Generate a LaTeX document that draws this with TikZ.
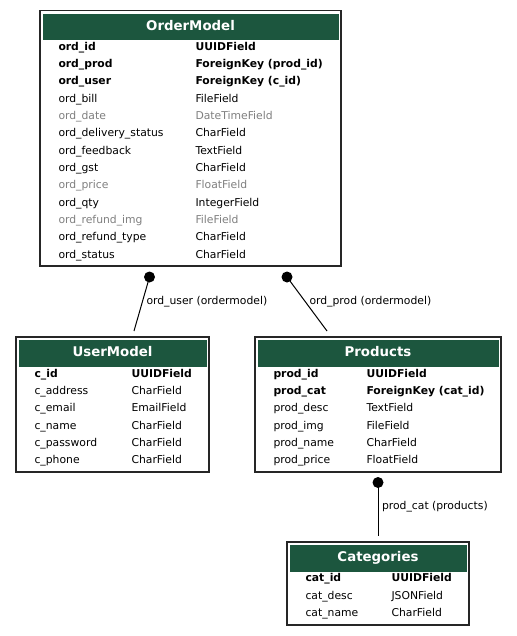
\documentclass[tikz,border=0pt]{standalone}
\usepackage{fontspec}
\setmainfont{DejaVu Sans}
\definecolor{hdrgreen}{RGB}{28,86,62}
\definecolor{fadegray}{RGB}{128,128,128}
\tikzset{every picture/.style={line width=0.75pt}}
\tikzset{
  tblframe/.style={draw=black!85, line width=1pt, fill=white},
  tblhead/.style={fill=hdrgreen, draw=none},
  tbltitle/.style={anchor=base, text=white, inner sep=0pt, font=\fontsize{10}{12}\selectfont\bfseries},
  fld/.style={anchor=base west, inner sep=0pt, font=\fontsize{8.1}{10}\selectfont},
  keyfld/.style={fld, font=\fontsize{8.1}{10}\selectfont\bfseries},
  dimfld/.style={fld, text=fadegray},
  rellabel/.style={anchor=base west, inner sep=0pt, font=\fontsize{8.1}{10}\selectfont},
  reldot/.style={fill=black}
}

\begin{document}
\begin{tikzpicture}[x=0.75pt,y=0.75pt,yscale=-1,xscale=1]
\path (0,0) rectangle (517,636);

%OrderModel table
\draw [tblframe] (40,10.5) rectangle (341,266);
\fill [tblhead] (42.5,13.5) rectangle (338.5,39.5);
\node [tbltitle] (ordtitle) at (190.5,30) {OrderModel};
\node [keyfld] (ordn1) at (58,50) {ord\_id};
\node [keyfld] (ordt1) at (195,50) {UUIDField};
\node [keyfld] (ordn2) at (58,67.33) {ord\_prod};
\node [keyfld] (ordt2) at (195,67.33) {ForeignKey (prod\_id)};
\node [keyfld] (ordn3) at (58,84.67) {ord\_user};
\node [keyfld] (ordt3) at (195,84.67) {ForeignKey (c\_id)};
\node [fld] (ordn4) at (58,102) {ord\_bill};
\node [fld] (ordt4) at (195,102) {FileField};
\node [dimfld] (ordn5) at (58,119.33) {ord\_date};
\node [dimfld] (ordt5) at (195,119.33) {DateTimeField};
\node [fld] (ordn6) at (58,136.67) {ord\_delivery\_status};
\node [fld] (ordt6) at (195,136.67) {CharField};
\node [fld] (ordn7) at (58,154) {ord\_feedback};
\node [fld] (ordt7) at (195,154) {TextField};
\node [fld] (ordn8) at (58,171.33) {ord\_gst};
\node [fld] (ordt8) at (195,171.33) {CharField};
\node [dimfld] (ordn9) at (58,188.67) {ord\_price};
\node [dimfld] (ordt9) at (195,188.67) {FloatField};
\node [fld] (ordn10) at (58,206) {ord\_qty};
\node [fld] (ordt10) at (195,206) {IntegerField};
\node [dimfld] (ordn11) at (58,223.33) {ord\_refund\_img};
\node [dimfld] (ordt11) at (195,223.33) {FileField};
\node [fld] (ordn12) at (58,240.67) {ord\_refund\_type};
\node [fld] (ordt12) at (195,240.67) {CharField};
\node [fld] (ordn13) at (58,258) {ord\_status};
\node [fld] (ordt13) at (195,258) {CharField};

%UserModel table
\draw [tblframe] (16,337) rectangle (209,472);
\fill [tblhead] (18.5,339.5) rectangle (206.5,366.5);
\node [tbltitle] (usrtitle) at (112.5,356) {UserModel};
\node [keyfld] (usrn1) at (34,377.3) {c\_id};
\node [keyfld] (usrt1) at (131,377.3) {UUIDField};
\node [fld] (usrn2) at (34,394.6) {c\_address};
\node [fld] (usrt2) at (131,394.6) {CharField};
\node [fld] (usrn3) at (34,411.9) {c\_email};
\node [fld] (usrt3) at (131,411.9) {EmailField};
\node [fld] (usrn4) at (34,429.2) {c\_name};
\node [fld] (usrt4) at (131,429.2) {CharField};
\node [fld] (usrn5) at (34,446.5) {c\_password};
\node [fld] (usrt5) at (131,446.5) {CharField};
\node [fld] (usrn6) at (34,463.8) {c\_phone};
\node [fld] (usrt6) at (131,463.8) {CharField};

%Products table
\draw [tblframe] (255,337) rectangle (501,472);
\fill [tblhead] (257.5,339.5) rectangle (498.5,366.5);
\node [tbltitle] (prdtitle) at (378,356) {Products};
\node [keyfld] (prdn1) at (273,377.3) {prod\_id};
\node [keyfld] (prdt1) at (366,377.3) {UUIDField};
\node [keyfld] (prdn2) at (273,394.6) {prod\_cat};
\node [keyfld] (prdt2) at (366,394.6) {ForeignKey (cat\_id)};
\node [fld] (prdn3) at (273,411.9) {prod\_desc};
\node [fld] (prdt3) at (366,411.9) {TextField};
\node [fld] (prdn4) at (273,429.2) {prod\_img};
\node [fld] (prdt4) at (366,429.2) {FileField};
\node [fld] (prdn5) at (273,446.5) {prod\_name};
\node [fld] (prdt5) at (366,446.5) {CharField};
\node [fld] (prdn6) at (273,463.8) {prod\_price};
\node [fld] (prdt6) at (366,463.8) {FloatField};

%Categories table
\draw [tblframe] (287,542) rectangle (469,625);
\fill [tblhead] (289.5,544.5) rectangle (466.5,571.5);
\node [tbltitle] (cattitle) at (378,561) {Categories};
\node [keyfld] (catn1) at (305,581.5) {cat\_id};
\node [keyfld] (catt1) at (391,581.5) {UUIDField};
\node [fld] (catn2) at (305,599) {cat\_desc};
\node [fld] (catt2) at (391,599) {JSONField};
\node [fld] (catn3) at (305,616.5) {cat\_name};
\node [fld] (catt3) at (391,616.5) {CharField};

%relations
\coordinate (usrdot) at (149.5,277);
\coordinate (usrend) at (134,331);
\coordinate (prddot) at (287,277);
\coordinate (prdend) at (327,331);
\coordinate (catdot) at (378,482.5);
\coordinate (catend) at (378,536);
\draw (usrdot) -- (usrend);
\draw (prddot) -- (prdend);
\draw (catdot) -- (catend);
\fill [reldot] (usrdot) circle (5.5);
\fill [reldot] (prddot) circle (5.5);
\fill [reldot] (catdot) circle (5.5);
\node [rellabel] (usrlabel) at (146,304.3) {ord\_user (ordermodel)};
\node [rellabel] (prdlabel) at (309,304.3) {ord\_prod (ordermodel)};
\node [rellabel] (catlabel) at (381.5,509) {prod\_cat (products)};
\end{tikzpicture}
\end{document}
